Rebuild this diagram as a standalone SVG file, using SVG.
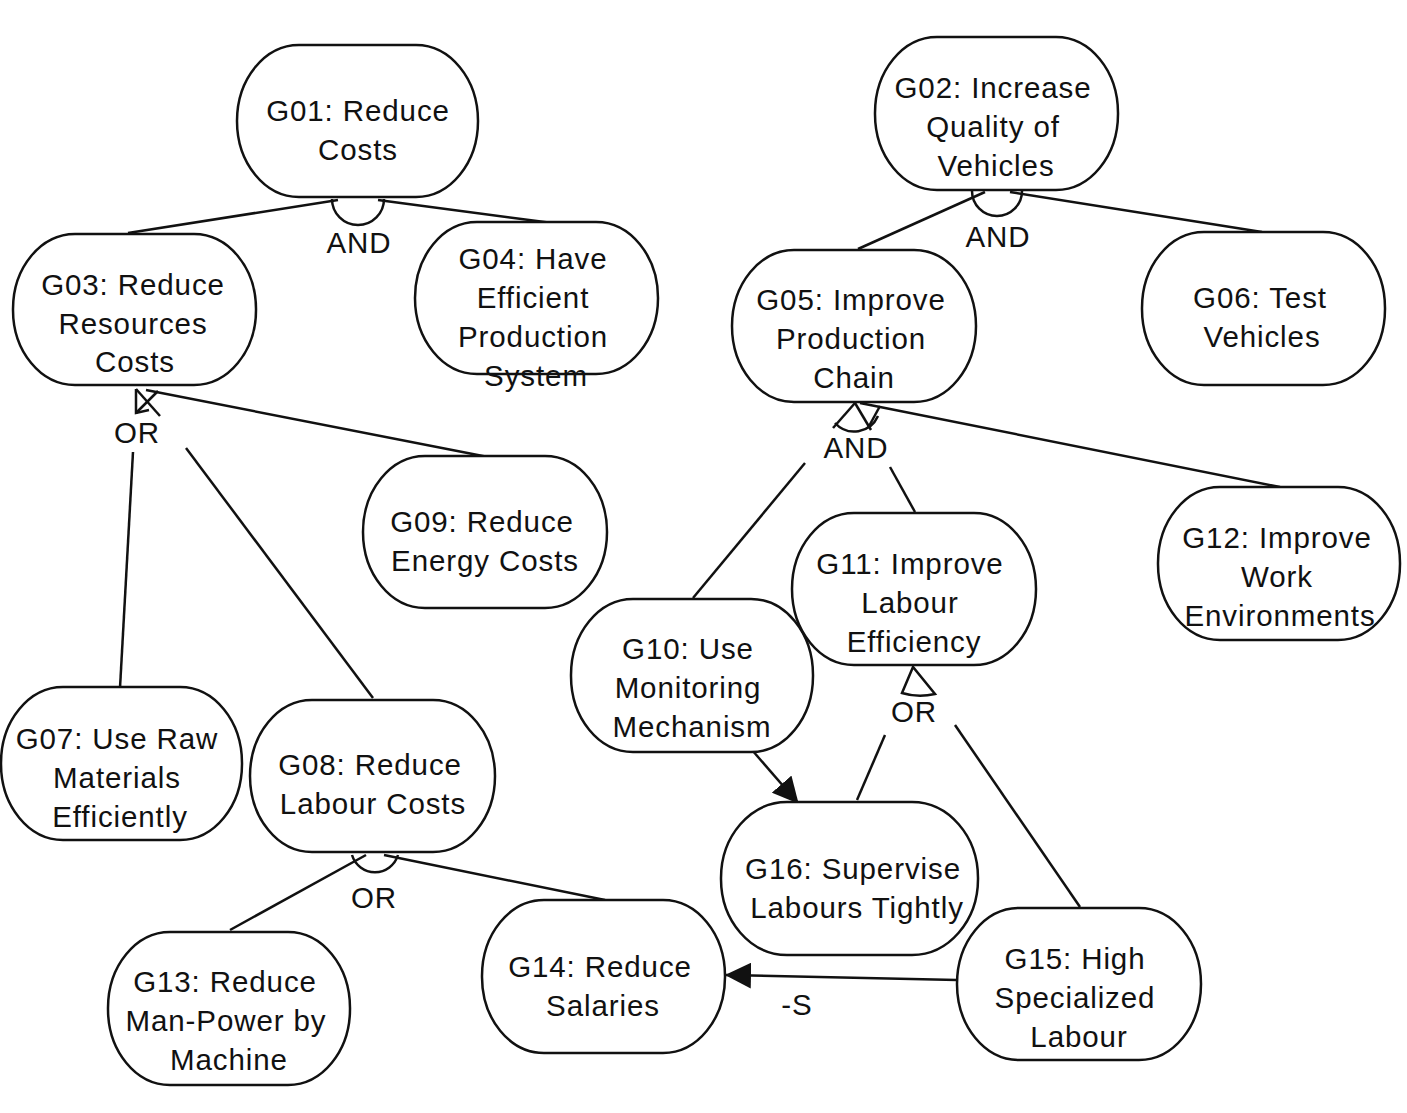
<svg xmlns="http://www.w3.org/2000/svg" width="1407" height="1113" viewBox="0 0 1407 1113">
<defs>
<style>
.n rect{fill:#fff;stroke:#111;stroke-width:2.5}
text{font-family:"Liberation Sans",Arial,sans-serif;font-size:29.5px;letter-spacing:0.9px;fill:#111;text-anchor:middle}
.c line,.c path,.c polyline{stroke:#111;stroke-width:2.5;fill:none}
</style>
<marker id="ah2" viewBox="0 0 26 26" refX="25" refY="13" markerWidth="26" markerHeight="26" orient="auto" markerUnits="userSpaceOnUse">
<path d="M0,0 L26,13 L0,26 z" fill="#111"/>
</marker>
</defs>
<rect width="1407" height="1113" fill="#fff"/>
<g class="c" id="connectors">
<line x1="128" y1="233" x2="338" y2="200"/>
<line x1="378" y1="200" x2="560" y2="224"/>
<path d="M332,199 A26,26 0 0 0 384,199"/>
<line x1="858" y1="249" x2="985" y2="192"/>
<line x1="1010" y1="192" x2="1262" y2="232"/>
<path d="M972,191 A25,25 0 0 0 1022,191"/>
<line x1="146" y1="390" x2="488" y2="457"/>
<line x1="120" y1="688" x2="133" y2="452"/>
<line x1="373" y1="698" x2="186" y2="448"/>
<path d="M136,389 L136,413 L149,410"/>
<line x1="136" y1="389" x2="160" y2="416"/>
<line x1="158" y1="391" x2="136" y2="413"/>
<line x1="855" y1="403" x2="833" y2="428"/>
<line x1="855" y1="403" x2="871" y2="430"/>
<line x1="880" y1="406" x2="868" y2="428"/>
<path d="M835,423 A26,26 0 0 0 878,416"/>
<line x1="860" y1="403" x2="1280" y2="487"/>
<line x1="693" y1="598" x2="805" y2="463"/>
<line x1="915" y1="512" x2="890" y2="467"/>
<path d="M913,667 L902,693 Q918,698 935,694 Z"/>
<line x1="857" y1="800" x2="885" y2="735"/>
<line x1="1080" y1="907" x2="955" y2="725"/>
<line x1="752" y1="750" x2="798" y2="803" marker-end="url(#ah2)"/>
<line x1="957" y1="980" x2="726" y2="975" marker-end="url(#ah2)"/>
<line x1="230" y1="930" x2="366" y2="855"/>
<line x1="384" y1="855" x2="605" y2="900"/>
<path d="M352,855 A24,24 0 0 0 398,855"/>
</g>
<g class="n" id="G01"><rect x="237" y="45" width="241" height="152" rx="62" ry="76"/><text x="358" y="121">G01: Reduce</text><text x="358" y="160">Costs</text></g>
<g class="n" id="G02"><rect x="875" y="37" width="243" height="153" rx="62" ry="76"/><text x="993" y="98">G02: Increase</text><text x="993" y="137">Quality of</text><text x="996" y="176">Vehicles</text></g>
<g class="n" id="G03"><rect x="13" y="234" width="243" height="151" rx="62" ry="75"/><text x="133" y="295">G03: Reduce</text><text x="133" y="334">Resources</text><text x="135" y="372">Costs</text></g>
<g class="n" id="G04"><rect x="415" y="222" width="243" height="152" rx="62" ry="76"/><text x="533" y="269">G04: Have</text><text x="533" y="308">Efficient</text><text x="533" y="347">Production</text><text x="536" y="386">System</text></g>
<g class="n" id="G05"><rect x="732" y="250" width="244" height="152" rx="62" ry="76"/><text x="851" y="310">G05: Improve</text><text x="851" y="349">Production</text><text x="854" y="388">Chain</text></g>
<g class="n" id="G06"><rect x="1142" y="232" width="243" height="153" rx="62" ry="76"/><text x="1260" y="308">G06: Test</text><text x="1262" y="347">Vehicles</text></g>
<g class="n" id="G09"><rect x="363" y="456" width="244" height="152" rx="62" ry="76"/><text x="482" y="532">G09: Reduce</text><text x="485" y="571">Energy Costs</text></g>
<g class="n" id="G07"><rect x="1" y="687" width="241" height="153" rx="62" ry="76"/><text x="117" y="749">G07: Use Raw</text><text x="117" y="788">Materials</text><text x="120" y="827">Efficiently</text></g>
<g class="n" id="G08"><rect x="250" y="700" width="245" height="152" rx="62" ry="76"/><text x="370" y="775">G08: Reduce</text><text x="373" y="814">Labour Costs</text></g>
<g class="n" id="G10"><rect x="571" y="599" width="242" height="153" rx="62" ry="76"/><text x="688" y="659">G10: Use</text><text x="688" y="698">Monitoring</text><text x="692" y="737">Mechanism</text></g>
<g class="n" id="G11"><rect x="792" y="513" width="244" height="152" rx="62" ry="76"/><text x="910" y="574">G11: Improve</text><text x="910" y="613">Labour</text><text x="914" y="652">Efficiency</text></g>
<g class="n" id="G12"><rect x="1158" y="487" width="242" height="153" rx="62" ry="76"/><text x="1277" y="548">G12: Improve</text><text x="1277" y="587">Work</text><text x="1280" y="626">Environments</text></g>
<g class="n" id="G13"><rect x="108" y="932" width="242" height="153" rx="62" ry="76"/><text x="225" y="992">G13: Reduce</text><text x="226" y="1031">Man-Power by</text><text x="229" y="1070">Machine</text></g>
<g class="n" id="G14"><rect x="482" y="900" width="243" height="153" rx="62" ry="76"/><text x="600" y="977">G14: Reduce</text><text x="603" y="1016">Salaries</text></g>
<g class="n" id="G16"><rect x="721" y="802" width="257" height="153" rx="66" ry="76"/><text x="853" y="879">G16: Supervise</text><text x="857" y="918">Labours Tightly</text></g>
<g class="n" id="G15"><rect x="957" y="908" width="244" height="152" rx="62" ry="76"/><text x="1075" y="969">G15: High</text><text x="1075" y="1008">Specialized</text><text x="1079" y="1047">Labour</text></g>
<g id="labels">
<text x="359" y="253">AND</text>
<text x="998" y="247">AND</text>
<text x="137" y="443">OR</text>
<text x="856" y="458">AND</text>
<text x="914" y="722">OR</text>
<text x="374" y="908">OR</text>
<text x="797" y="1015">-S</text>
</g>
</svg>
